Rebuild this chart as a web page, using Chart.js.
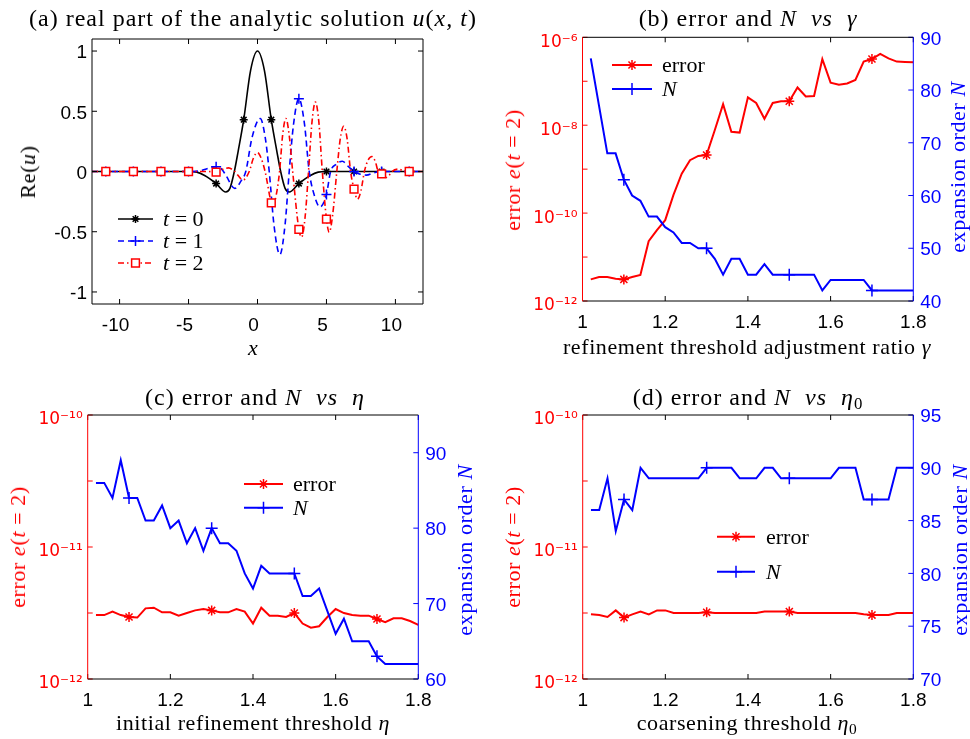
<!DOCTYPE html>
<html>
<head>
<meta charset="utf-8">
<script src="https://cdn.jsdelivr.net/npm/chart.js@4.4.1/dist/chart.umd.min.js"></script>
<style>
  html, body { margin: 0; padding: 0; background: #fff; }
  #fig { position: relative; width: 970px; height: 739px; overflow: hidden; font-family: "Liberation Serif", "Times New Roman", serif; }
  .panel { position: absolute; }
  .panel canvas { display: block; }
  .txt { position: absolute; white-space: nowrap; color: #000; font-size: 22px; line-height: 1; }
  .ttl { font-size: 24px; letter-spacing: 1px; }
  .lab { letter-spacing: 0.6px; }
  .c { transform: translate(-50%, -50%); }
  .rot { transform: translate(-50%, -50%) rotate(-90deg); }
  .lg { transform: translateY(-50%); }
  .red { color: #ff0000; }
  .blue { color: #0000ff; }
  sub { font-size: 70%; vertical-align: -0.25em; line-height: 0; }
</style>
</head>
<body>
<div id="fig">
  <div class="panel" style="left:0;top:0"><canvas id="ca" width="480" height="370"></canvas></div>
  <div class="panel" style="left:480px;top:0"><canvas id="cb" width="490" height="370"></canvas></div>
  <div class="panel" style="left:0;top:370px"><canvas id="cc" width="480" height="369"></canvas></div>
  <div class="panel" style="left:480px;top:370px"><canvas id="cd" width="490" height="369"></canvas></div>

  <div class="txt ttl c" style="left:253px;top:18px">(a) real part of the analytic solution <i>u</i>(<i>x, t</i>)</div>
  <div class="txt lab rot" style="left:28px;top:172px">Re(<i>u</i>)</div>
  <div class="txt c" style="left:253px;top:348px"><i>x</i></div>
  <div class="txt lg" style="left:163px;top:219px"><i>t</i> = 0</div>
  <div class="txt lg" style="left:163px;top:241px"><i>t</i> = 1</div>
  <div class="txt lg" style="left:163px;top:263px"><i>t</i> = 2</div>

  <div class="txt ttl c" style="left:748px;top:18px">(b) error and <i>N</i>&nbsp; <i>vs</i>&nbsp; <i>γ</i></div>
  <div class="txt lab rot red" style="left:513px;top:170px">error <i>e</i>(<i>t</i> = 2)</div>
  <div class="txt lab rot blue" style="left:958px;top:167px">expansion order <i>N</i></div>
  <div class="txt lab c" style="left:747px;top:347px">refinement threshold adjustment ratio <i>γ</i></div>
  <div class="txt lg" style="left:662px;top:65px">error</div>
  <div class="txt lg" style="left:662px;top:89px"><i>N</i></div>

  <div class="txt ttl c" style="left:255px;top:397px">(c) error and <i>N</i>&nbsp; <i>vs</i>&nbsp; <i>η</i></div>
  <div class="txt lab rot red" style="left:18px;top:547px">error <i>e</i>(<i>t</i> = 2)</div>
  <div class="txt lab rot blue" style="left:465px;top:550px">expansion order <i>N</i></div>
  <div class="txt lab c" style="left:253px;top:723px">initial refinement threshold <i>η</i></div>
  <div class="txt lg" style="left:293px;top:484px">error</div>
  <div class="txt lg" style="left:293px;top:508px"><i>N</i></div>

  <div class="txt ttl c" style="left:748px;top:397px">(d) error and <i>N</i>&nbsp; <i>vs</i>&nbsp; <i>η</i><sub>0</sub></div>
  <div class="txt lab rot red" style="left:513px;top:547px">error <i>e</i>(<i>t</i> = 2)</div>
  <div class="txt lab rot blue" style="left:960px;top:550px">expansion order <i>N</i></div>
  <div class="txt lab c" style="left:747px;top:723px">coarsening threshold <i>η</i><sub>0</sub></div>
  <div class="txt lg" style="left:766px;top:537px">error</div>
  <div class="txt lg" style="left:766px;top:572px"><i>N</i></div>
</div>
<script>
// (a) Re(u), t = 0, 1, 2
const t0X = [-12, -11, -9, -7, -5, -4.4, -3.8, -3, -2.3, -2.0, -1.68, -1.4, -1, -0.5, 0, 0.5, 1, 1.4, 1.68, 2.0, 2.3, 3, 3.8, 4.4, 5, 7, 9, 11, 12]
const t0Y = [0, 0, 0, 0, 0, -0.005, -0.035, -0.10, -0.17, -0.14, 0, 0.17, 0.43, 0.84, 1, 0.84, 0.43, 0.17, 0, -0.14, -0.17, -0.10, -0.035, -0.005, 0, 0, 0, 0, 0]
const t1X = [-12, -11, -9, -7, -5, -4.2, -3.6, -3, -2.6, -2.3, -1.65, -1.2, -0.85, -0.4, 0.2, 0.55, 0.85, 1.2, 1.62, 2.0, 2.3, 2.6, 3, 3.4, 3.75, 4.1, 4.53, 5, 5.3, 5.7, 6.15, 6.6, 7, 7.4, 7.9, 8.4, 9, 11, 12]
const t1Y = [0, 0, 0, 0, 0, 0.005, 0.025, 0.04, 0.02, -0.03, -0.14, -0.08, 0, 0.28, 0.44, 0.29, 0, -0.45, -0.69, -0.44, 0, 0.38, 0.605, 0.40, 0, -0.19, -0.295, -0.19, 0, 0.06, 0.085, 0.04, 0, -0.02, -0.03, -0.012, 0, 0, 0]
const t2X = [-12, -11, -9, -7, -5, -3.6, -3, -2.6, -2.1, -1.65, -1.05, -0.6, -0.3, 0, 0.3, 0.55, 1, 1.12, 1.35, 1.6, 1.82, 2.06, 2.3, 2.55, 3, 3.2, 3.45, 3.7, 3.95, 4.2, 4.45, 4.7, 5, 5.2, 5.45, 5.75, 6.0, 6.25, 6.5, 6.75, 7, 7.25, 7.5, 7.75, 8.0, 8.3, 8.55, 8.75, 9, 9.33, 9.55, 9.75, 10.2, 10.6, 11, 12]
const t2Y = [0, 0, 0, 0, 0, 0, -0.005, 0.015, 0.03, 0, -0.07, 0, 0.11, 0.157, 0.1, 0, -0.26, -0.285, -0.2, 0, 0.3, 0.44, 0.3, 0, -0.48, -0.545, -0.38, 0, 0.41, 0.577, 0.41, 0, -0.395, -0.505, -0.36, 0, 0.27, 0.376, 0.27, 0, -0.146, -0.23, -0.16, 0, 0.09, 0.124, 0.08, 0, -0.02, -0.05, -0.03, 0, 0.02, 0.005, 0, 0]
const markA = [-11, -9, -7, -5, -3, -1, 1, 3, 5, 7, 9, 11]

// (b)-(d) parameter sweep, shared x values
const ratio = [1.02, 1.04, 1.06, 1.08, 1.1, 1.12, 1.14, 1.16, 1.18, 1.2, 1.22, 1.24, 1.26, 1.28, 1.3, 1.32, 1.34, 1.36, 1.38, 1.4,
  1.42, 1.44, 1.46, 1.48, 1.5, 1.52, 1.54, 1.56, 1.58, 1.6, 1.62, 1.64, 1.66, 1.68, 1.7, 1.72, 1.74, 1.76, 1.78, 1.8]
const markR = [1.1, 1.3, 1.5, 1.7]

const errB = [3.1e-12, 3.5e-12, 3.5e-12, 3.2e-12, 3.1e-12, 3.5e-12, 3.9e-12, 2.3e-11, 4.1e-11, 6.9e-11,
  2.6e-10, 7.9e-10, 1.6e-9, 2.0e-9, 2.1e-9, 7.8e-9, 3.0e-8, 7.1e-9, 6.8e-9, 4.3e-8,
  3.2e-8, 1.4e-8, 3.2e-8, 3.5e-8, 3.5e-8, 7.2e-8, 4.5e-8, 4.6e-8, 3.2e-7, 9.3e-8,
  8.3e-8, 8.9e-8, 1.07e-7, 2.8e-7, 3.2e-7, 4.2e-7, 3.3e-7, 2.8e-7, 2.75e-7, 2.7e-7]
const nB = [86, 77, 68, 68, 63, 60, 59, 56, 56, 54, 53, 51, 51, 50, 50, 48, 45, 48, 48, 45,
  45, 47, 45, 45, 45, 45, 45, 45, 42, 44, 44, 44, 44, 44, 42, 42, 42, 42, 42, 42]

const errC = [3.05e-12, 3.05e-12, 3.24e-12, 3.05e-12, 2.95e-12, 2.92e-12, 3.43e-12, 3.47e-12, 3.2e-12, 3.2e-12,
  3.02e-12, 3.16e-12, 3.31e-12, 3.39e-12, 3.31e-12, 3.2e-12, 3.2e-12, 3.39e-12, 3.24e-12, 2.63e-12,
  3.47e-12, 3.02e-12, 3.02e-12, 2.95e-12, 3.16e-12, 2.63e-12, 2.45e-12, 2.51e-12, 2.95e-12, 3.39e-12,
  3.16e-12, 3.05e-12, 3.02e-12, 3.02e-12, 2.85e-12, 2.69e-12, 2.88e-12, 2.88e-12, 2.75e-12, 2.57e-12]
const nC = [86, 86, 84, 89, 84, 84, 81, 81, 83, 80, 81, 78, 80, 77, 80, 78, 78, 77, 74, 72,
  75, 74, 74, 74, 74, 71, 71, 72, 69, 66, 68, 65, 65, 65, 63, 62, 62, 62, 62, 62]

const errD = [3.09e-12, 3.05e-12, 2.95e-12, 3.31e-12, 2.92e-12, 3.09e-12, 3.24e-12, 3.09e-12, 3.31e-12, 3.31e-12,
  3.16e-12, 3.16e-12, 3.16e-12, 3.16e-12, 3.2e-12, 3.16e-12, 3.16e-12, 3.16e-12, 3.16e-12, 3.16e-12,
  3.16e-12, 3.24e-12, 3.24e-12, 3.24e-12, 3.24e-12, 3.16e-12, 3.16e-12, 3.16e-12, 3.16e-12, 3.16e-12,
  3.16e-12, 3.16e-12, 3.16e-12, 3.09e-12, 3.05e-12, 3.05e-12, 3.05e-12, 3.16e-12, 3.16e-12, 3.16e-12]
const nD = [86, 86, 89, 84, 87, 86, 90, 89, 89, 89, 89, 89, 89, 89, 90, 90, 90, 90, 89, 89,
  89, 90, 90, 89, 89, 89, 89, 89, 89, 89, 90, 90, 90, 87, 87, 87, 87, 90, 90, 90]

// tick values
const xTicksA = [-10, -5, 0, 5, 10]
const yTicksA = [-1, -0.5, 0, 0.5, 1]
const xTicksR = [1, 1.2, 1.4, 1.6, 1.8]
const logTicksB = [1e-12, 1e-11, 1e-10, 1e-9, 1e-8, 1e-7, 1e-6]
const logTicksCD = [1e-12, Math.pow(10, -11.5), 1e-11, Math.pow(10, -10.5), 1e-10]
const nTicksB = [40, 50, 60, 70, 80, 90]
const nTicksC = [60, 70, 80, 90]
const nTicksD = [70, 75, 80, 85, 90, 95]

const RED = '#ff0000'
const BLUE = '#0000ff'
const tickFont = { family: '"Liberation Sans", Arial, sans-serif', size: 19 }
const logFont = { family: '"DejaVu Sans", sans-serif', size: 17 }

const supMap = { '-': '\u207b', '0': '\u2070', '1': '\u00b9', '2': '\u00b2', '3': '\u00b3', '4': '\u2074',
  '5': '\u2075', '6': '\u2076', '7': '\u2077', '8': '\u2078', '9': '\u2079' }

function powLabel(every) {
  return v => {
    const e = Math.log10(v)
    const r = Math.round(e)
    if (Math.abs(e - r) > 1e-6 || r % every !== 0) return ''
    return '10' + String(r).split('').map(c => supMap[c]).join('')
  }
}

const pts = (xs, ys) => xs.map((x, i) => ({ x: x, y: ys[i] }))
const onList = list => ctx => (ctx.raw && list.some(m => Math.abs(m - ctx.raw.x) < 1e-9))

// MATLAB-like box with inward ticks
const matlabAxes = {
  id: 'matlabAxes',
  afterDraw(chart, args, o) {
    const { ctx, chartArea: a } = chart
    const L = 5
    ctx.save()
    ctx.lineWidth = 1
    const line = (x1, y1, x2, y2, c) => {
      ctx.strokeStyle = c
      ctx.beginPath()
      ctx.moveTo(x1, y1)
      ctx.lineTo(x2, y2)
      ctx.stroke()
    }
    const sx = chart.scales.x
    const sy = chart.scales.y
    const sy2 = chart.scales.y2
    sx.ticks.forEach(t => {
      const p = sx.getPixelForValue(t.value)
      line(p, a.bottom, p, a.bottom - L, '#000')
      line(p, a.top, p, a.top + L, '#000')
    })
    sy.ticks.forEach(t => {
      const p = sy.getPixelForValue(t.value)
      line(a.left, p, a.left + L, p, o.left)
      if (!sy2) line(a.right, p, a.right - L, p, o.left)
    })
    if (sy2) {
      sy2.ticks.forEach(t => {
        const p = sy2.getPixelForValue(t.value)
        line(a.right, p, a.right - L, p, o.right)
      })
    }
    line(a.left, a.top, a.right, a.top, '#000')
    line(a.left, a.bottom, a.right, a.bottom, '#000')
    line(a.left, a.top, a.left, a.bottom, o.left)
    line(a.right, a.top, a.right, a.bottom, o.right)
    ctx.restore()
  }
}

// line + marker samples for the legend (text is html)
const sampleLegend = {
  id: 'sampleLegend',
  afterDraw(chart, args, o) {
    if (!o || !o.rows) return
    const ctx = chart.ctx
    o.rows.forEach((y, k) => {
      const ds = chart.data.datasets[o.items[k]]
      ctx.save()
      ctx.strokeStyle = ds.borderColor
      ctx.lineWidth = ds.borderWidth
      ctx.setLineDash(ds.borderDash || [])
      ctx.beginPath()
      ctx.moveTo(o.x0, y)
      ctx.lineTo(o.x1, y)
      ctx.stroke()
      ctx.setLineDash([])
      ctx.strokeStyle = ds.pointBorderColor
      ctx.fillStyle = ds.pointBackgroundColor
      ctx.lineWidth = ds.pointBorderWidth
      Chart.helpers.drawPoint(ctx, { pointStyle: ds.pointStyle, radius: o.radius[k], rotation: 0, borderWidth: ds.pointBorderWidth }, (o.x0 + o.x1) / 2, y)
      ctx.restore()
    })
  }
}

Chart.register(matlabAxes, sampleLegend)

function xAxis(min, max, ticks, h, shift) {
  return {
    type: 'linear', min: min, max: max,
    afterBuildTicks: s => { s.ticks = ticks.map(v => ({ value: v })) },
    afterFit: s => { s.height = h },
    grid: { display: false, drawTicks: false },
    border: { display: false },
    ticks: { color: '#000', font: tickFont, padding: 10, labelOffset: shift || 0, maxRotation: 0, autoSkip: false, callback: v => String(v) }
  }
}

function yAxis(opts) {
  return {
    type: opts.type || 'linear', position: opts.position, min: opts.min, max: opts.max,
    afterBuildTicks: s => { s.ticks = opts.ticks.map(v => ({ value: v })) },
    afterFit: s => { s.width = opts.w },
    grid: { display: false, drawTicks: false },
    border: { display: false },
    ticks: { color: opts.color, font: opts.font || tickFont, padding: opts.pad, labelOffset: opts.shift || 0, autoSkip: false, callback: opts.fmt || (v => String(v)) }
  }
}

const baseOpts = {
  responsive: false,
  animation: false,
  devicePixelRatio: 1,
  events: [],
  elements: { line: { tension: 0 } }
}

// (a)
new Chart(document.getElementById('ca'), {
  type: 'line',
  data: {
    datasets: [
      { label: 't = 0', data: pts(t0X, t0Y), borderColor: '#000', borderWidth: 1.6, cubicInterpolationMode: 'monotone',
        pointStyle: 'star', pointRadius: c => onList(markA)(c) ? 4 : 0, pointBorderColor: '#000', pointBackgroundColor: '#000', pointBorderWidth: 1.5, order: 2 },
      { label: 't = 1', data: pts(t1X, t1Y), borderColor: BLUE, borderWidth: 1.6, borderDash: [6, 4], cubicInterpolationMode: 'monotone',
        pointStyle: 'cross', pointRadius: c => onList(markA)(c) ? 5 : 0, pointBorderColor: BLUE, pointBackgroundColor: BLUE, pointBorderWidth: 1.5, order: 1 },
      { label: 't = 2', data: pts(t2X, t2Y), borderColor: RED, borderWidth: 1.6, borderDash: [6, 3, 1.5, 3], cubicInterpolationMode: 'monotone',
        pointStyle: 'rect', pointRadius: c => onList(markA)(c) ? 5.5 : 0, pointBorderColor: RED, pointBackgroundColor: '#fff', pointBorderWidth: 1.5, order: 0 }
    ]
  },
  options: Object.assign({}, baseOpts, {
    layout: { padding: { top: 39, right: 57, left: 0, bottom: 0 } },
    scales: {
      x: xAxis(-12, 12, xTicksA, 66, -4),
      y: yAxis({ position: 'left', min: -1.1, max: 1.1, ticks: yTicksA, w: 92, color: '#000', pad: 5, shift: 2 })
    },
    plugins: {
      legend: { display: false }, tooltip: { enabled: false },
      matlabAxes: { left: '#000', right: '#000' },
      sampleLegend: { x0: 118, x1: 153, rows: [219, 241, 263], items: [0, 1, 2], radius: [4, 5, 5.5] }
    }
  })
})

function sweepChart(id, cfg) {
  return new Chart(document.getElementById(id), {
    type: 'line',
    data: {
      datasets: [
        { label: 'error', data: pts(ratio, cfg.err), yAxisID: 'y', borderColor: RED, borderWidth: 2,
          pointStyle: 'star', pointRadius: c => onList(markR)(c) ? 5 : 0, pointBorderColor: RED, pointBackgroundColor: RED, pointBorderWidth: 1.5, order: 1 },
        { label: 'N', data: pts(ratio, cfg.n), yAxisID: 'y2', borderColor: BLUE, borderWidth: 2,
          pointStyle: 'cross', pointRadius: c => onList(markR)(c) ? 6 : 0, pointBorderColor: BLUE, pointBackgroundColor: BLUE, pointBorderWidth: 1.5, order: 0 }
      ]
    },
    options: Object.assign({}, baseOpts, {
      layout: { padding: { top: cfg.top, right: 0, left: 0, bottom: 0 } },
      scales: {
        x: xAxis(1, 1.8, xTicksR, cfg.xh, 0),
        y: yAxis({ type: 'logarithmic', position: 'left', min: cfg.logMin, max: cfg.logMax, ticks: cfg.logTicks, w: cfg.lw, color: RED, pad: 5, shift: 5, font: logFont, fmt: powLabel(cfg.every) }),
        y2: yAxis({ position: 'right', min: cfg.nMin, max: cfg.nMax, ticks: cfg.nTicks, w: cfg.rw, color: BLUE, pad: 7, shift: 2 })
      },
      plugins: {
        legend: { display: false }, tooltip: { enabled: false },
        matlabAxes: { left: RED, right: BLUE },
        sampleLegend: { x0: cfg.lx0, x1: cfg.lx1, rows: cfg.rows, items: [0, 1], radius: [5, 6] }
      }
    })
  })
}

sweepChart('cb', { err: errB, n: nB, top: 37.3, xh: 69, lw: 102.5, rw: 56.7, logMin: 1e-12, logMax: 1e-6, logTicks: logTicksB, every: 2,
  nMin: 40, nMax: 90, nTicks: nTicksB, lx0: 132, lx1: 172, rows: [65, 89] })
sweepChart('cc', { err: errC, n: nC, top: 45, xh: 60, lw: 87.7, rw: 61.7, logMin: 1e-12, logMax: 1e-10, logTicks: logTicksCD, every: 1,
  nMin: 60, nMax: 95, nTicks: nTicksC, lx0: 244, lx1: 283, rows: [114, 137.7] })
sweepChart('cd', { err: errD, n: nD, top: 45, xh: 60, lw: 102.7, rw: 56.7, logMin: 1e-12, logMax: 1e-10, logTicks: logTicksCD, every: 1,
  nMin: 70, nMax: 95, nTicks: nTicksD, lx0: 237, lx1: 275, rows: [166.7, 201.7] })
</script>
</body>
</html>
